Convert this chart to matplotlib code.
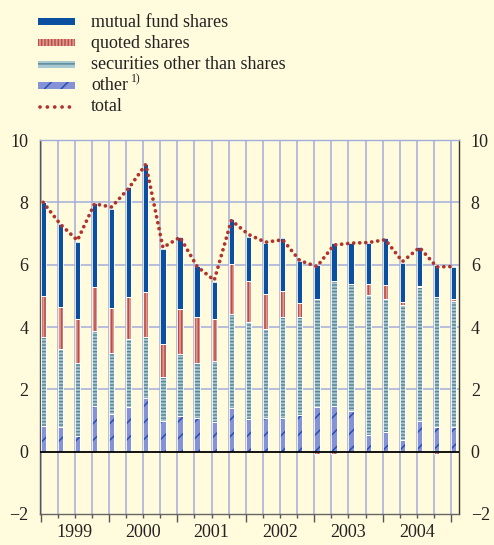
import numpy as np
import matplotlib
matplotlib.use("Agg")
import matplotlib.pyplot as plt
from matplotlib.patches import Rectangle
from matplotlib.lines import Line2D

plt.rcParams['font.family'] = ['Liberation Serif', 'DejaVu Serif']
plt.rcParams['hatch.linewidth'] = 1.1

# ---- data (quarterly, 25 bars) ----
years = ['1999', '2000', '2001', '2002', '2003', '2004']
other = [0.83, 0.78, 0.49, 1.45, 1.21, 1.44, 1.71, 0.99, 1.13, 1.07, 0.94, 1.39, 1.05,
         1.07, 1.07, 1.19, 1.42, 1.45, 1.31, 0.55, 0.62, 0.38, 0.99, 0.78, 0.78]
securities = [2.86, 2.53, 2.37, 2.43, 1.94, 2.17, 1.98, 1.39, 2.01, 1.76, 1.96, 3.03, 3.12,
              2.85, 3.24, 3.12, 3.47, 4.03, 4.06, 4.49, 4.28, 4.33, 4.28, 4.19, 4.06]
quoted = [1.31, 1.32, 1.41, 1.39, 1.47, 1.34, 1.42, 1.07, 1.45, 1.48, 1.37, 1.61, 1.31,
          1.14, 0.83, 0.45, -0.06, -0.06, 0.02, 0.35, 0.46, 0.08, 0.04, -0.06, 0.05]
mutual = [3.01, 2.66, 2.46, 2.72, 3.18, 3.54, 4.11, 3.05, 2.31, 1.65, 1.16, 1.45, 1.42,
          1.62, 1.70, 1.36, 1.10, 1.20, 1.31, 1.29, 1.48, 1.26, 1.26, 1.01, 1.05]
total = [8.00, 7.30, 6.78, 7.95, 7.85, 8.45, 9.22, 6.55, 6.88, 5.94, 5.50, 7.42, 6.97,
         6.72, 6.80, 6.13, 5.94, 6.63, 6.69, 6.71, 6.80, 6.10, 6.55, 5.93, 5.94]

BG = '#fffbdc'
GRID = '#a4acdb'
C_MUT = '#0b4fa0'
C_QUO_F, C_QUO_H = '#dc9a8f', '#bb4f47'
C_SEC_F, C_SEC_H = '#a9c9d2', '#5a8a98'
C_OTH_F, C_OTH_H = '#8493d6', '#2c4db3'
C_TOT = '#b0332c'

W, H = 494, 545
fig = plt.figure(figsize=(W / 100, H / 100), dpi=100, facecolor=BG)
ax = fig.add_axes([40 / W, 31 / H, 419 / W, 374 / H], facecolor=BG)

n = len(other)
x = np.arange(n)
bw = 0.31

series = [
    (other, C_OTH_F, C_OTH_H, '//'),
    (securities, C_SEC_F, C_SEC_H, '-----'),
    (quoted, C_QUO_F, C_QUO_H, '|||||'),
    (mutual, C_MUT, C_MUT, None),
]
pos_base = np.zeros(n)
neg_base = np.zeros(n)
for vals, fc, hc, hatch in series:
    v = np.array(vals, dtype=float)
    bottom = np.where(v >= 0, pos_base, neg_base)
    ax.bar(x, v, width=bw, bottom=bottom, align='edge', color=fc, edgecolor=hc,
           hatch=hatch, linewidth=0, zorder=3)
    ax.bar(x, v, width=bw, bottom=bottom, align='edge', fill=False,
           edgecolor='white', linewidth=0.6, zorder=4)
    pos_base = pos_base + np.where(v >= 0, v, 0)
    neg_base = neg_base + np.where(v < 0, v, 0)

ax.plot(x + bw / 2, total, color=C_TOT, lw=2.7, dashes=(0.01, 1.6),
        dash_capstyle='round', zorder=6)

ax.axhline(0, color='black', lw=1.3, zorder=5)

ax.set_xlim(-0.03, 24.46)
ax.set_ylim(-2, 10)
ax.set_yticks([-2, 0, 2, 4, 6, 8, 10])
for yv in [2, 4, 6, 8]:
    ax.axhline(yv, color=GRID, lw=1.1, zorder=1)
for xv in x:
    ax.axvline(xv, color=GRID, lw=1.1, zorder=1)

ax.tick_params(axis='y', which='both', length=0, labelsize=13,
               left=True, right=True, labelleft=True, labelright=True,
               labelcolor='#222222')
for t in ax.yaxis.get_major_ticks():
    t.set_pad(8.5)

ax.set_xticks(np.arange(0, 25, 4))
ax.set_xticks(np.arange(0, 25, 1), minor=True)
ax.set_xticklabels([])
ax.tick_params(axis='x', which='major', length=6, width=1, color='#555555', direction='out')
ax.tick_params(axis='x', which='minor', length=3, width=1, color='#555555', direction='out')
for i, yr in enumerate(years):
    ax.annotate(yr, xy=(2 + 4 * i, 0), xycoords=('data', 'axes fraction'),
                xytext=(0, -13), textcoords='offset points', ha='center', va='center',
                fontsize=13, color='#222222')

ax.spines['top'].set_color(GRID)
ax.spines['left'].set_color('#555555')
ax.spines['right'].set_color('#333333')
ax.spines['bottom'].set_color('#666666')
for s in ax.spines.values():
    s.set_linewidth(1.0)

# ---- legend (figure pixel coords) ----
def fx(px):
    return px / W

def fy(py):
    return 1 - py / H

entries = [
    ('mutual fund shares', C_MUT, C_MUT, None, 21.5, 27),
    ('quoted shares', C_QUO_F, C_QUO_H, '|||||', 42.6, 48),
    ('securities other than shares', C_SEC_F, C_SEC_H, '---', 64.5, 69),
    ('other', C_OTH_F, C_OTH_H, '//', 85.5, 90),
]
for label, fc, hc, hatch, cy, base in entries:
    r = Rectangle((fx(38), fy(cy + 3.7)), 37 / W, 7.4 / H, transform=fig.transFigure,
                  facecolor=fc, edgecolor=hc, hatch=hatch, linewidth=0)
    fig.add_artist(r)
    fig.text(fx(91), fy(base), label, fontsize=13, va='baseline', ha='left', color='#222222')
fig.text(fx(131), fy(82), '1)', fontsize=8.5, va='baseline', ha='left', color='#222222')
fig.add_artist(Line2D([fx(39.5), fx(75)], [fy(107), fy(107)], transform=fig.transFigure,
                      color=C_TOT, lw=2.7, dashes=(0.01, 1.95), dash_capstyle='round'))
fig.text(fx(91), fy(111), 'total', fontsize=13, va='baseline', ha='left', color='#222222')

fig.savefig('out.png', dpi=100, facecolor=BG)
